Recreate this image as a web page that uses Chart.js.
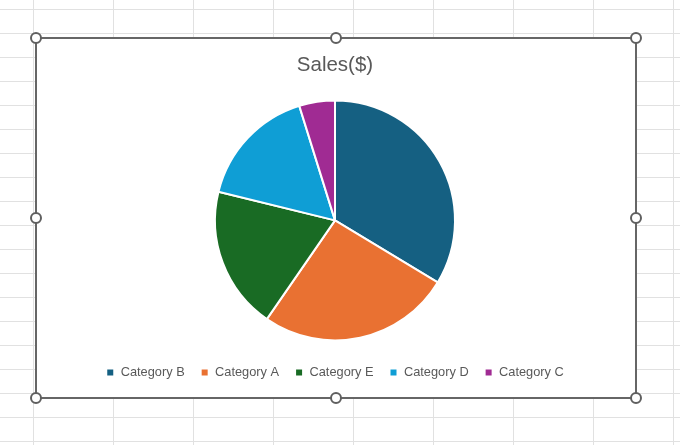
<!DOCTYPE html>
<html>
<head>
<meta charset="utf-8">
<script src="https://cdn.jsdelivr.net/npm/chart.js@4.4.1/dist/chart.umd.min.js"></script>
<style>
    html, body {
        margin: 0;
        padding: 0;
        width: 680px;
        height: 445px;
        overflow: hidden;
    }
    body {
        position: relative;
        background-color: #fff;
        background-image:
            linear-gradient(to right, #e1e1e1 1px, transparent 1px),
            linear-gradient(to bottom, #e1e1e1 1px, transparent 1px);
        background-size: 80px 24px;
        background-position: 33px 9px;
    }
    #frame {
        position: absolute;
        left: 35px;
        top: 37px;
        width: 602px;
        height: 362px;
        background: #fff;
        border: 2px solid #666;
        box-sizing: border-box;
    }
    #frame canvas {
        position: absolute;
        left: 0;
        top: 0;
    }
    .handle {
        position: absolute;
        width: 12px;
        height: 12px;
        margin: -6px 0 0 -6px;
        border: 2px solid #5f5f5f;
        border-radius: 50%;
        background: #fff;
        box-sizing: border-box;
    }
</style>
</head>
<body>
<div id="frame"><canvas id="salesChart"></canvas></div>
<div class="handle" style="left:36px;top:38px"></div>
<div class="handle" style="left:336px;top:38px"></div>
<div class="handle" style="left:636px;top:38px"></div>
<div class="handle" style="left:36px;top:218px"></div>
<div class="handle" style="left:636px;top:218px"></div>
<div class="handle" style="left:36px;top:398px"></div>
<div class="handle" style="left:336px;top:398px"></div>
<div class="handle" style="left:636px;top:398px"></div>
<script>
// Données du graphique
const categories = ['Category B', 'Category A', 'Category E', 'Category D', 'Category C'];
const sales = [35, 27, 20, 17, 5];
const colors = ['#156082', '#E97132', '#196B24', '#0F9ED5', '#A02B93'];

document.addEventListener('DOMContentLoaded', () => {
    const ctx = document.getElementById('salesChart').getContext('2d');
    new Chart(ctx, {
        type: 'pie',
        data: {
            labels: categories,
            datasets: [{
                data: sales,
                backgroundColor: colors,
                borderColor: '#ffffff',
                borderWidth: 2,
                radius: 120
            }]
        },
        options: {
            responsive: true,
            maintainAspectRatio: false,
            animation: false,
            layout: {
                padding: { top: 0, bottom: 8, left: 0, right: 2 }
            },
            plugins: {
                title: {
                    display: true,
                    text: 'Sales($)',
                    color: '#595959',
                    font: { family: 'Liberation Sans', size: 20.5, weight: 'normal' },
                    padding: { top: 14, bottom: 13 }
                },
                legend: {
                    position: 'bottom',
                    labels: {
                        color: '#595959',
                        font: { family: 'Liberation Sans', size: 12.8 },
                        boxWidth: 8,
                        boxHeight: 8,
                        padding: 16
                    }
                },
                tooltip: { enabled: false }
            }
        }
    });
});
</script>
</body>
</html>
